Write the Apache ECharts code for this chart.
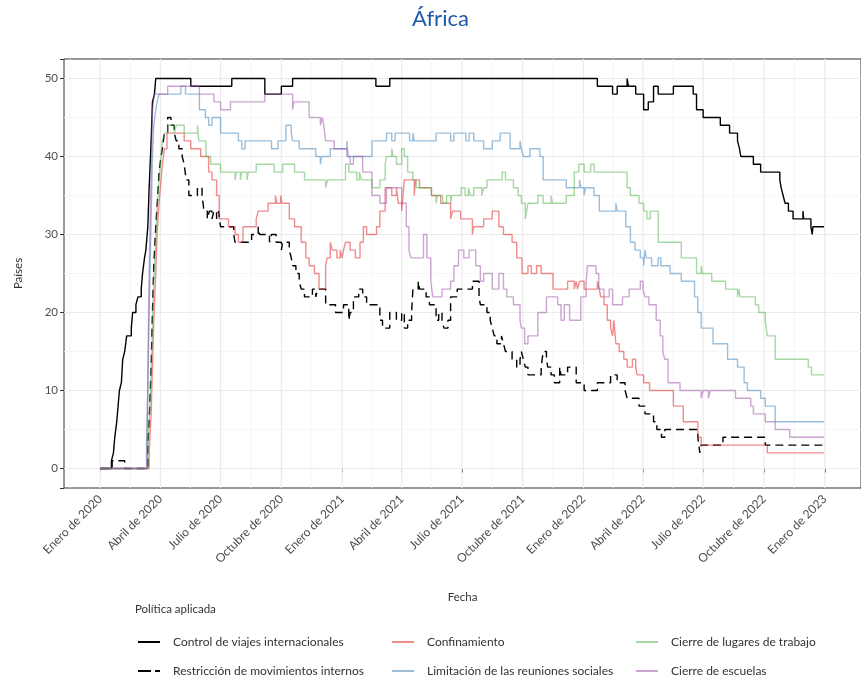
<!DOCTYPE html>
<html>
<head>
<meta charset="utf-8">
<script src="https://cdn.jsdelivr.net/npm/echarts@6/dist/echarts.min.js"></script>
<style>
  html, body { margin: 0; padding: 0; background: #ffffff; }
  #chart { width: 861px; height: 682px; }
</style>
</head>
<body>
<div id="chart"></div>
<script>
// Número de países de África con cada política aplicada (cambios de nivel por fecha)
const politicas = [
  'Control de viajes internacionales',
  'Restricción de movimientos internos',
  'Confinamiento',
  'Limitación de las reuniones sociales',
  'Cierre de lugares de trabajo',
  'Cierre de escuelas'
];

const viajes = [
  ['2020-01-01',0],['2020-01-18',1],['2020-01-21',2],['2020-01-23',4],['2020-01-26',6],['2020-01-28',8],
  ['2020-01-30',10],['2020-02-02',11],['2020-02-04',14],['2020-02-07',15],['2020-02-10',17],['2020-02-17',18],
  ['2020-02-19',20],['2020-02-24',21],['2020-02-27',22],['2020-03-03',23],['2020-03-05',25],['2020-03-08',27],
  ['2020-03-10',28],['2020-03-13',31],['2020-03-15',36],['2020-03-18',42],['2020-03-20',47],['2020-03-23',48],
  ['2020-03-25',50],['2020-05-17',49],['2020-07-18',50],['2020-09-06',48],['2020-10-01',49],['2020-10-18',50],
  ['2021-02-21',49],['2021-03-14',50],['2022-01-22',49],['2022-02-14',48],['2022-02-21',49],['2022-03-08',50],
  ['2022-03-10',49],['2022-03-21',48],['2022-04-02',46],['2022-04-09',47],['2022-04-17',49],['2022-04-24',48],
  ['2022-05-17',49],['2022-06-16',48],['2022-06-21',46],['2022-07-01',45],['2022-07-27',44],['2022-08-10',43],
  ['2022-08-22',42],['2022-08-25',41],['2022-08-27',40],['2022-09-15',39],['2022-09-26',38],['2022-10-25',37],
  ['2022-10-27',36],['2022-10-30',35],['2022-11-02',34],['2022-11-07',33],['2022-11-14',32],['2022-11-29',33],
  ['2022-11-30',32],['2022-12-11',31],['2022-12-13',30],['2022-12-14',31],['2022-12-31',31]
];

const movimientos = [
  ['2020-01-01',0],['2020-01-19',1],['2020-02-07',0],['2020-03-13',3],['2020-03-15',6],['2020-03-18',13],
  ['2020-03-20',20],['2020-03-22',26],['2020-03-25',31],['2020-03-28',35],['2020-03-30',38],['2020-04-02',40],
  ['2020-04-04',41],['2020-04-07',43],['2020-04-12',45],['2020-04-17',44],['2020-04-22',43],['2020-04-25',42],
  ['2020-04-29',41],['2020-05-04',40],['2020-05-07',39],['2020-05-10',37],['2020-05-14',35],['2020-05-27',36],
  ['2020-06-03',35],['2020-06-06',33],['2020-06-11',32],['2020-06-14',33],['2020-06-18',32],['2020-06-21',33],
  ['2020-06-25',32],['2020-06-28',33],['2020-07-01',31],['2020-07-21',30],['2020-07-23',29],['2020-08-17',30],
  ['2020-08-27',31],['2020-08-29',30],['2020-09-13',29],['2020-09-16',30],['2020-09-23',29],['2020-10-01',28],
  ['2020-10-03',29],['2020-10-13',28],['2020-10-16',27],['2020-10-18',26],['2020-10-23',25],['2020-10-28',24],
  ['2020-10-31',23],['2020-11-05',22],['2020-11-17',23],['2020-11-22',22],['2020-11-25',23],['2020-12-07',21],
  ['2020-12-22',20],['2021-01-03',21],['2021-01-11',19],['2021-01-13',20],['2021-01-18',22],['2021-01-26',23],
  ['2021-02-01',22],['2021-02-07',21],['2021-02-27',19],['2021-03-03',18],['2021-03-14',20],['2021-03-24',19],
  ['2021-04-01',20],['2021-04-05',18],['2021-04-10',19],['2021-04-16',20],['2021-04-18',23],['2021-04-26',24],
  ['2021-04-28',23],['2021-05-08',22],['2021-05-13',21],['2021-05-23',19],['2021-05-27',20],['2021-06-01',19],
  ['2021-06-04',18],['2021-06-10',19],['2021-06-14',22],['2021-06-24',23],['2021-07-17',24],['2021-07-27',22],
  ['2021-07-29',21],['2021-08-08',20],['2021-08-13',19],['2021-08-16',18],['2021-08-19',17],['2021-08-23',16],
  ['2021-08-30',17],['2021-09-02',16],['2021-09-05',15],['2021-09-15',14],['2021-09-22',13],['2021-09-27',14],
  ['2021-09-29',15],['2021-10-02',14],['2021-10-05',13],['2021-10-09',12],['2021-10-29',13],['2021-11-01',15],
  ['2021-11-06',14],['2021-11-08',13],['2021-11-13',12],['2021-11-18',11],['2021-11-26',13],['2021-11-28',12],
  ['2021-12-08',13],['2021-12-21',11],['2022-01-02',10],['2022-01-22',11],['2022-02-11',12],['2022-02-21',11],
  ['2022-03-05',10],['2022-03-08',9],['2022-03-26',8],['2022-04-04',7],['2022-04-17',6],['2022-04-22',5],
  ['2022-04-29',4],['2022-05-04',5],['2022-06-23',4],['2022-06-26',2],['2022-06-28',3],['2022-07-31',4],
  ['2022-10-03',3],['2022-12-31',3]
];

const confinamiento = [
  ['2020-01-01',0],['2020-03-15',2],['2020-03-18',7],['2020-03-20',13],['2020-03-22',19],['2020-03-25',25],
  ['2020-03-27',30],['2020-03-30',34],['2020-04-02',37],['2020-04-04',39],['2020-04-07',41],['2020-04-11',43],
  ['2020-05-07',42],['2020-05-17',41],['2020-06-01',40],['2020-06-13',38],['2020-06-18',37],['2020-06-25',35],
  ['2020-06-29',32],['2020-07-13',31],['2020-07-23',30],['2020-07-28',29],['2020-08-04',31],['2020-08-24',32],
  ['2020-08-27',33],['2020-09-11',34],['2020-09-22',35],['2020-09-24',34],['2020-09-30',35],['2020-10-02',34],
  ['2020-10-13',32],['2020-10-21',31],['2020-10-31',29],['2020-11-07',27],['2020-11-12',26],['2020-11-20',25],
  ['2020-11-27',23],['2020-12-07',26],['2020-12-09',27],['2020-12-14',29],['2020-12-17',28],['2020-12-24',27],
  ['2020-12-29',28],['2021-01-01',27],['2021-01-03',28],['2021-01-06',29],['2021-01-13',28],['2021-01-21',27],
  ['2021-01-28',29],['2021-02-02',31],['2021-02-07',30],['2021-02-22',31],['2021-02-27',33],['2021-03-07',36],
  ['2021-03-17',35],['2021-03-24',36],['2021-03-27',34],['2021-04-01',33],['2021-04-03',35],['2021-04-05',37],
  ['2021-04-20',35],['2021-04-22',37],['2021-04-28',36],['2021-05-16',35],['2021-05-30',34],['2021-06-14',32],
  ['2021-06-17',33],['2021-06-29',32],['2021-07-17',30],['2021-07-19',31],['2021-08-03',32],['2021-08-16',33],
  ['2021-08-26',31],['2021-09-02',30],['2021-09-15',29],['2021-09-22',27],['2021-09-30',25],['2021-10-09',26],
  ['2021-10-14',25],['2021-10-22',26],['2021-10-29',25],['2021-11-16',23],['2021-12-08',24],['2021-12-18',23],
  ['2021-12-21',24],['2021-12-23',23],['2021-12-26',24],['2022-01-02',23],['2022-01-22',24],['2022-01-25',23],
  ['2022-01-27',22],['2022-02-01',21],['2022-02-06',19],['2022-02-11',18],['2022-02-14',17],['2022-02-16',19],
  ['2022-02-18',17],['2022-02-19',16],['2022-02-24',15],['2022-03-03',14],['2022-03-08',13],['2022-03-16',14],
  ['2022-03-21',13],['2022-03-23',12],['2022-04-02',11],['2022-04-11',10],['2022-05-17',8],['2022-06-01',6],
  ['2022-06-23',4],['2022-06-28',3],['2022-10-06',2],['2022-12-31',2]
];

const reuniones = [
  ['2020-01-01',0],['2020-03-11',3],['2020-03-13',10],['2020-03-15',20],['2020-03-18',32],['2020-03-20',40],
  ['2020-03-22',44],['2020-03-25',46],['2020-03-27',47],['2020-03-30',48],['2020-05-02',49],['2020-05-09',48],
  ['2020-05-30',46],['2020-06-08',45],['2020-06-13',44],['2020-06-18',45],['2020-07-01',43],['2020-07-28',42],
  ['2020-08-02',41],['2020-08-07',42],['2020-09-16',41],['2020-09-26',42],['2020-10-08',44],['2020-10-16',43],
  ['2020-10-18',42],['2020-10-28',41],['2020-11-22',40],['2020-11-29',39],['2020-12-01',40],['2020-12-14',41],
  ['2021-01-08',42],['2021-01-10',40],['2021-02-15',42],['2021-03-09',43],['2021-03-17',42],['2021-03-22',43],
  ['2021-04-13',42],['2021-04-18',43],['2021-04-20',42],['2021-05-23',43],['2021-06-14',42],['2021-06-19',43],
  ['2021-07-07',42],['2021-07-12',43],['2021-07-19',42],['2021-08-03',41],['2021-08-16',42],['2021-08-28',43],
  ['2021-09-12',41],['2021-09-27',42],['2021-09-29',41],['2021-10-02',40],['2021-10-12',41],['2021-10-27',40],
  ['2021-11-01',37],['2021-12-06',36],['2021-12-26',37],['2021-12-28',36],['2022-01-02',35],['2022-01-04',36],
  ['2022-01-17',35],['2022-01-25',33],['2022-02-19',34],['2022-02-21',33],['2022-03-06',31],['2022-03-13',29],
  ['2022-03-20',28],['2022-03-28',27],['2022-04-02',26],['2022-04-04',28],['2022-04-06',27],['2022-04-14',26],
  ['2022-04-24',27],['2022-04-28',26],['2022-05-12',25],['2022-05-29',24],['2022-06-18',22],['2022-06-23',20],
  ['2022-06-28',18],['2022-07-16',16],['2022-08-07',14],['2022-08-22',13],['2022-09-01',11],['2022-09-06',10],
  ['2022-09-26',9],['2022-10-03',8],['2022-10-18',6],['2022-12-31',6]
];

const trabajo = [
  ['2020-01-01',0],['2020-03-13',2],['2020-03-15',6],['2020-03-18',12],['2020-03-20',18],['2020-03-22',24],
  ['2020-03-25',29],['2020-03-27',33],['2020-03-30',37],['2020-04-02',40],['2020-04-04',42],['2020-04-07',43],
  ['2020-04-12',44],['2020-04-22',43],['2020-04-25',44],['2020-05-07',43],['2020-05-27',44],['2020-05-29',42],
  ['2020-06-09',40],['2020-06-16',39],['2020-07-01',38],['2020-07-23',37],['2020-07-25',38],['2020-07-31',37],
  ['2020-08-02',38],['2020-08-10',37],['2020-08-12',38],['2020-08-24',39],['2020-09-20',38],['2020-10-03',39],
  ['2020-10-21',38],['2020-11-05',37],['2020-12-07',36],['2020-12-10',37],['2021-01-06',39],['2021-01-11',38],
  ['2021-01-23',37],['2021-01-27',38],['2021-01-30',37],['2021-02-15',36],['2021-02-27',37],['2021-03-07',39],
  ['2021-03-09',40],['2021-03-17',41],['2021-03-19',40],['2021-03-24',39],['2021-04-01',41],['2021-04-05',40],
  ['2021-04-10',38],['2021-04-18',37],['2021-04-23',36],['2021-05-16',35],['2021-05-23',34],['2021-05-25',35],
  ['2021-06-02',34],['2021-06-08',35],['2021-06-14',34],['2021-06-16',35],['2021-06-30',36],['2021-07-06',35],
  ['2021-07-11',36],['2021-07-14',35],['2021-07-19',36],['2021-07-31',35],['2021-08-03',36],['2021-08-08',37],
  ['2021-08-31',38],['2021-09-05',37],['2021-09-17',36],['2021-09-24',35],['2021-09-29',34],['2021-10-05',32],
  ['2021-10-07',33],['2021-10-09',34],['2021-10-24',35],['2021-11-01',34],['2021-11-13',35],['2021-11-15',34],
  ['2021-12-06',35],['2021-12-18',38],['2021-12-25',39],['2022-01-02',38],['2022-01-12',39],['2022-01-17',38],
  ['2022-03-08',36],['2022-03-13',35],['2022-03-26',34],['2022-04-02',33],['2022-04-07',32],['2022-04-12',33],
  ['2022-04-24',29],['2022-05-29',27],['2022-06-21',25],['2022-06-28',26],['2022-06-30',25],['2022-07-14',24],
  ['2022-08-04',23],['2022-08-22',22],['2022-08-24',23],['2022-08-26',22],['2022-09-18',21],['2022-09-23',20],
  ['2022-10-03',19],['2022-10-06',17],['2022-10-18',14],['2022-12-07',13],['2022-12-12',12],['2022-12-31',12]
];

const escuelas = [
  ['2020-01-01',0],['2020-03-12',4],['2020-03-13',12],['2020-03-15',25],['2020-03-18',38],['2020-03-20',46],
  ['2020-03-23',48],['2020-04-12',49],['2020-05-30',48],['2020-06-21',47],['2020-07-01',46],['2020-07-16',47],
  ['2020-09-06',48],['2020-10-18',46],['2020-10-20',47],['2020-11-12',45],['2020-11-29',44],['2020-12-02',45],
  ['2020-12-04',44],['2020-12-07',42],['2020-12-20',41],['2021-01-08',40],['2021-01-13',39],['2021-01-18',40],
  ['2021-02-01',38],['2021-02-15',35],['2021-02-27',34],['2021-03-09',36],['2021-04-01',34],['2021-04-08',31],
  ['2021-04-12',28],['2021-04-15',27],['2021-05-04',30],['2021-05-09',27],['2021-05-15',24],['2021-05-18',22],
  ['2021-06-01',23],['2021-06-14',24],['2021-06-19',26],['2021-06-26',28],['2021-07-04',27],['2021-07-12',28],
  ['2021-07-22',26],['2021-07-29',24],['2021-08-03',25],['2021-08-16',23],['2021-08-26',25],['2021-09-02',23],
  ['2021-09-07',22],['2021-09-17',21],['2021-09-27',19],['2021-09-29',18],['2021-10-04',16],['2021-10-09',17],
  ['2021-10-24',20],['2021-11-06',22],['2021-11-23',21],['2021-11-28',19],['2021-12-03',21],['2021-12-11',19],
  ['2021-12-28',22],['2022-01-05',24],['2022-01-07',26],['2022-01-20',25],['2022-01-24',23],['2022-02-01',22],
  ['2022-02-09',23],['2022-02-14',21],['2022-03-01',22],['2022-03-11',23],['2022-03-28',24],['2022-04-01',23],
  ['2022-04-04',22],['2022-04-10',21],['2022-04-21',19],['2022-04-27',17],['2022-05-01',15],['2022-05-04',14],
  ['2022-05-09',11],['2022-05-27',10],['2022-06-28',9],['2022-07-01',10],['2022-07-09',9],['2022-07-12',10],
  ['2022-08-19',9],['2022-09-11',8],['2022-09-15',7],['2022-10-03',6],['2022-10-18',5],['2022-11-09',4],
  ['2022-12-31',4]
];

// Marcas del eje X (trimestres) y del eje Y
const fechasEje = ['2020-01-01','2020-04-01','2020-07-01','2020-10-01','2021-01-01','2021-04-01','2021-07-01',
  '2021-10-01','2022-01-01','2022-04-01','2022-07-01','2022-10-01','2023-01-01'];
const nombresMes = { 0: 'Enero', 3: 'Abril', 6: 'Julio', 9: 'Octubre' };
const valoresEje = [0, 10, 20, 30, 40, 50];

const FUENTE = 'Lato, "Open Sans", sans-serif';
const GRIS_TEXTO = '#4d4d4d';

function fecha(s) {
  const [y, m, d] = s.split('-').map(Number);
  return new Date(y, m - 1, d).getTime();
}

// Rango de los ejes con un 5 % de margen a cada lado
const inicio = fecha('2020-01-01');
const fin = fecha('2023-01-01');
const margenX = (fin - inicio) * 0.05;
const xMin = inicio - margenX;
const xMax = fin + margenX;
const yMin = -2.5;
const yMax = 52.5;

// Líneas de cuadrícula principales y secundarias (puntos medios)
const ticksX = fechasEje.map(fecha);
const pasoX = ticksX[1] - ticksX[0];
const menoresX = [];
const extX = [ticksX[0] - pasoX].concat(ticksX);
for (let i = 0; i < extX.length - 1; i++) menoresX.push((extX[i] + extX[i + 1]) / 2);
const menoresY = [];
for (let i = 0; i < valoresEje.length - 1; i++) menoresY.push((valoresEje[i] + valoresEje[i + 1]) / 2);

const verticales = ticksX.map(t => [t, 0]).concat(menoresX.filter(t => t > xMin && t < xMax).map(t => [t, 1]));
const horizontales = valoresEje.map(v => [xMin, v, 0]).concat(menoresY.map(v => [xMin, v, 1]));

function estiloRejilla(menor) {
  return { stroke: menor ? '#f4f4f4' : '#ebebeb', lineWidth: menor ? 0.8 : 1.2 };
}

const colores = ['#000000', '#000000', 'rgba(228,26,28,0.5)', 'rgba(55,126,184,0.5)', 'rgba(77,175,74,0.5)', 'rgba(152,78,163,0.5)'];
const tipos = ['solid', [8, 5], 'solid', 'solid', 'solid', 'solid'];
const datosSeries = [viajes, movimientos, confinamiento, reuniones, trabajo, escuelas];

const seriesLineas = politicas.map((nombre, i) => ({
  name: nombre,
  type: 'line',
  step: 'end',
  symbol: 'none',
  z: 3,
  data: datosSeries[i].map(([f, v]) => [fecha(f), v]),
  lineStyle: { color: colores[i], width: 1.4, type: tipos[i] },
  itemStyle: { color: colores[i] }
}));

// Leyenda en dos filas y tres columnas; cada entrada es un componente propio
const ICONO_CONTINUO = 'path://M0,0H22V2H0Z';
const ICONO_DISCONTINUO = 'path://M0,0H13V2H0Z M17,0H22V2H17Z';
const posLeyenda = [[138, 636], [138, 665], [392, 636], [392, 665], [636, 636], [636, 665]];
const leyendas = politicas.map((nombre, i) => ({
  data: [{ name: nombre, icon: i === 1 ? ICONO_DISCONTINUO : ICONO_CONTINUO }],
  left: posLeyenda[i][0],
  top: posLeyenda[i][1],
  padding: 0,
  itemWidth: 22,
  itemHeight: 14,
  selectedMode: false,
  itemStyle: { borderWidth: 0 },
  textStyle: { fontFamily: FUENTE, fontSize: 12, color: '#333333', padding: [0, 0, 0, 8] }
}));

const chart = echarts.init(document.getElementById('chart'), null, { renderer: 'canvas' });
chart.setOption({
  animation: false,
  backgroundColor: '#ffffff',
  title: [
    { text: 'África', left: 412, top: 8, padding: 0,
      textStyle: { fontFamily: FUENTE, fontSize: 22, fontWeight: 'normal', color: '#1f5aa6' } },
    { text: 'Política aplicada', left: 135, top: 603, padding: 0,
      textStyle: { fontFamily: FUENTE, fontSize: 11.5, fontWeight: 'normal', color: '#333333' } }
  ],
  legend: leyendas,
  grid: {
    left: 64, top: 59, width: 805, height: 429,
    show: true, borderColor: '#333333', borderWidth: 1, backgroundColor: 'transparent'
  },
  xAxis: {
    type: 'time',
    min: xMin, max: xMax,
    minInterval: 92 * 86400000, maxInterval: 92 * 86400000,
    name: 'Fecha', nameLocation: 'middle', nameGap: 103,
    nameTextStyle: { fontFamily: FUENTE, fontSize: 11.5, color: '#333333' },
    axisLine: { show: false },
    axisTick: { show: true, length: 4, lineStyle: { color: '#333333', width: 1 } },
    splitLine: { show: false },
    axisLabel: {
      rotate: 45, margin: 9, fontFamily: FUENTE, fontSize: 12, color: GRIS_TEXTO,
      formatter: function (value) {
        const d = new Date(value);
        if (d.getDate() !== 1 || d.getHours() !== 0 || !(d.getMonth() in nombresMes)) return '';
        return nombresMes[d.getMonth()] + ' de ' + d.getFullYear();
      }
    }
  },
  yAxis: {
    type: 'value',
    min: yMin, max: yMax,
    name: 'Países', nameLocation: 'middle', nameGap: 40, nameRotate: 90,
    nameTextStyle: { fontFamily: FUENTE, fontSize: 11.5, color: '#333333' },
    axisLine: { show: false },
    axisTick: { show: true, length: 4, lineStyle: { color: '#333333', width: 1 } },
    splitLine: { show: false },
    axisLabel: {
      margin: 6, fontFamily: FUENTE, fontSize: 11.5, color: GRIS_TEXTO,
      formatter: v => (valoresEje.indexOf(v) >= 0 ? String(v) : '')
    }
  },
  series: [
    {
      type: 'custom', silent: true, z: 1,
      data: verticales,
      encode: { x: 0, y: 1 },
      renderItem: function (params, api) {
        const t = api.value(0);
        const a = api.coord([t, yMin]);
        const b = api.coord([t, yMax]);
        return { type: 'line', shape: { x1: a[0], y1: a[1], x2: b[0], y2: b[1] }, style: estiloRejilla(api.value(1) === 1) };
      }
    },
    {
      type: 'custom', silent: true, z: 1,
      data: horizontales,
      encode: { x: 0, y: 1 },
      renderItem: function (params, api) {
        const v = api.value(1);
        const a = api.coord([xMin, v]);
        const b = api.coord([xMax, v]);
        return { type: 'line', shape: { x1: a[0], y1: a[1], x2: b[0], y2: b[1] }, style: estiloRejilla(api.value(2) === 1) };
      }
    }
  ].concat(seriesLineas)
});
</script>
</body>
</html>
